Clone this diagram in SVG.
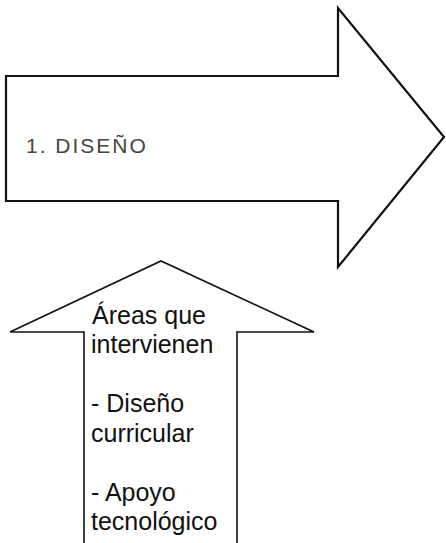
<svg xmlns="http://www.w3.org/2000/svg" width="446" height="543" viewBox="0 0 446 543">
  <style>
    .arrow { fill: #ffffff; stroke: #111111; stroke-linejoin: miter; }
    .big { stroke-width: 2.2; }
    .up { stroke-width: 1.6; }
    .lbl { font-family: "Liberation Sans", Arial, sans-serif; fill: #111111; }
    .title { font-size: 21px; fill: #444444; letter-spacing: 2px; }
    .body { font-size: 25px; }
  </style>
  <rect width="446" height="543" fill="#ffffff"/>
  <g id="node-diseno">
    <polygon class="arrow big" points="6,76 338,76 338,8 444,137 338,267 338,201 6,201"/>
    <text class="lbl title" x="26" y="153">1. DISEÑO</text>
  </g>
  <g id="node-areas">
    <path class="arrow up" d="M84,560 L84,332 L10,332 L161,261 L314,332 L237,332 L237,560"/>
    <text class="lbl body" x="92">
      <tspan x="92" y="324">Áreas que</tspan>
      <tspan x="91" y="353">intervienen</tspan>
      <tspan x="91" y="412">- Diseño</tspan>
      <tspan x="91" y="442">curricular</tspan>
      <tspan x="91" y="501">- Apoyo</tspan>
      <tspan x="91" y="530">tecnológico</tspan>
    </text>
  </g>
  <g id="connectors"></g>
</svg>
